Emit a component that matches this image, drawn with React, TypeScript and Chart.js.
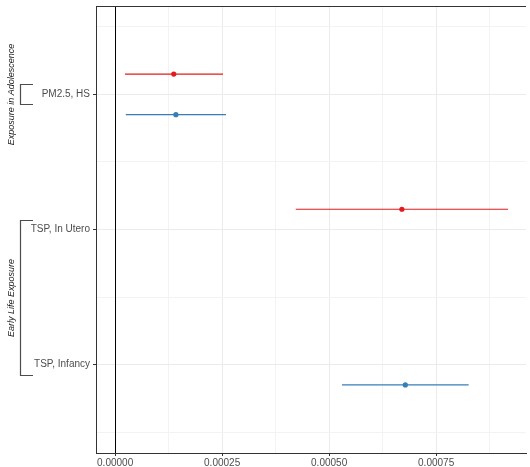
import React, { useEffect, useRef } from "react";
import { Chart, registerables } from "chart.js";

Chart.register(...registerables);

// ---- data ----
const categories = ["PM2.5, HS", "TSP, In Utero", "TSP, Infancy"];
const redEst = [0.000137, 0.00067, null];
const redLow = [0.000023, 0.000422, null];
const redHigh = [0.000252, 0.000918, null];
const blueEst = [0.000142, null, 0.000678];
const blueLow = [0.000025, null, 0.00053];
const blueHigh = [0.000259, null, 0.000826];
const xMajorTicks = [0, 0.00025, 0.0005, 0.00075];
const xMinorTicks = [0.000125, 0.000375, 0.000625, 0.000875];
const groupLabels = ["Exposure in Adolescence", "Early Life Exposure"];
const groupStart = [0, 1];
const groupEnd = [0, 2];

const RED = "#E41A1C";
const BLUE = "#377EB8";
const DODGE = 0.15;
const FONT = '"Liberation Sans", Arial, Helvetica, sans-serif';

type Series = { color: string; est: (number | null)[]; low: (number | null)[]; high: (number | null)[]; offset: number };
const series: Series[] = [
  { color: RED, est: redEst, low: redLow, high: redHigh, offset: -DODGE },
  { color: BLUE, est: blueEst, low: blueLow, high: blueHigh, offset: DODGE },
];

const isMajorX = (v: number) => xMajorTicks.some((t) => Math.abs(t - v) < 1e-9);
const isMajorY = (v: number) => Math.abs(v - Math.round(v)) < 1e-9;

const annotPlugin = {
  id: "annot",
  beforeDatasetsDraw(chart: any) {
    const { ctx, chartArea, scales } = chart;
    const x = scales.x;
    ctx.save();
    const x0 = Math.round(x.getPixelForValue(0)) + 0.5;
    ctx.strokeStyle = "#000000";
    ctx.lineWidth = 1;
    ctx.beginPath();
    ctx.moveTo(x0, chartArea.top);
    ctx.lineTo(x0, chartArea.bottom);
    ctx.stroke();
    ctx.restore();
  },
  afterDraw(chart: any) {
    const { ctx, chartArea, scales } = chart;
    const y = scales.y;
    ctx.save();
    // top border
    ctx.strokeStyle = "#333333";
    ctx.lineWidth = 1;
    ctx.beginPath();
    ctx.moveTo(chartArea.left, chartArea.top + 0.5);
    ctx.lineTo(chartArea.right, chartArea.top + 0.5);
    ctx.stroke();
    // group brackets
    groupLabels.forEach((label, i) => {
      const yTop = Math.round(y.getPixelForValue(groupStart[i] + 1) - 10) + 0.5;
      const yBot = Math.round(y.getPixelForValue(groupEnd[i] + 1) + 10) + 0.5;
      ctx.strokeStyle = "#4d4d4d";
      ctx.lineWidth = 1.2;
      ctx.beginPath();
      ctx.moveTo(33, yTop);
      ctx.lineTo(20.5, yTop);
      ctx.lineTo(20.5, yBot);
      ctx.lineTo(33, yBot);
      ctx.stroke();
      ctx.save();
      ctx.translate(11, (yTop + yBot) / 2);
      ctx.rotate(-Math.PI / 2);
      ctx.font = `italic 9px ${FONT}`;
      ctx.fillStyle = "#1a1a1a";
      ctx.textAlign = "center";
      ctx.textBaseline = "middle";
      ctx.fillText(label, 0, 0);
      ctx.restore();
    });
    ctx.restore();
  },
};

export default function App() {
  const ref = useRef<HTMLCanvasElement | null>(null);

  useEffect(() => {
    document.body.style.margin = "0";
    document.body.style.overflow = "hidden";
    if (!ref.current) return;

    const datasets: any[] = [];
    series.forEach((s) => {
      categories.forEach((_, i) => {
        const lo = s.low[i];
        const hi = s.high[i];
        if (lo == null || hi == null) return;
        datasets.push({
          type: "scatter",
          data: [
            { x: lo, y: i + 1 + s.offset },
            { x: hi, y: i + 1 + s.offset },
          ],
          showLine: true,
          borderColor: s.color,
          borderWidth: 1.1,
          pointRadius: 0,
          pointHoverRadius: 0,
        });
      });
    });
    series.forEach((s) => {
      const pts: any[] = [];
      categories.forEach((_, i) => {
        const e = s.est[i];
        if (e == null) return;
        pts.push({ x: e, y: i + 1 + s.offset });
      });
      datasets.push({
        type: "scatter",
        data: pts,
        showLine: false,
        backgroundColor: s.color,
        borderColor: s.color,
        borderWidth: 0,
        pointRadius: 2.6,
      });
    });

    const chart = new Chart(ref.current, {
      type: "scatter",
      data: { datasets },
      options: {
        responsive: false,
        animation: false,
        events: [],
        layout: { padding: { top: 6, right: 0, left: 0, bottom: 0 } },
        plugins: { legend: { display: false }, tooltip: { enabled: false } },
        scales: {
          x: {
            type: "linear",
            min: -0.0000447,
            max: 0.00096,
            afterBuildTicks: (scale: any) => {
              scale.ticks = [...xMajorTicks, ...xMinorTicks].sort((a, b) => a - b).map((v) => ({ value: v }));
            },
            afterFit: (scale: any) => {
              scale.height = 14;
              scale.paddingLeft = 0;
              scale.paddingRight = 0;
              scale.paddingTop = 0;
              scale.paddingBottom = 0;
            },
            grid: {
              color: (c: any) => (c.tick && isMajorX(c.tick.value) ? "#ebebeb" : "#f3f3f3"),
              lineWidth: 1,
              tickLength: 3,
              tickColor: (c: any) => (c.tick && isMajorX(c.tick.value) ? "#333333" : "rgba(0,0,0,0)"),
            },
            border: { display: true, color: "#333333", width: 1 },
            ticks: {
              autoSkip: false,
              maxRotation: 0,
              padding: 1,
              color: "#4d4d4d",
              font: { family: FONT, size: 10 },
              callback: (v: any) => (isMajorX(Number(v)) ? Number(v).toFixed(5) : ""),
            },
          },
          y: {
            type: "linear",
            reverse: true,
            min: 0.346,
            max: 3.654,
            afterBuildTicks: (scale: any) => {
              scale.ticks = [0.5, 1, 1.5, 2, 2.5, 3, 3.5].map((v) => ({ value: v }));
            },
            afterFit: (scale: any) => {
              scale.width = 96;
              scale.paddingLeft = 0;
              scale.paddingRight = 0;
              scale.paddingTop = 0;
              scale.paddingBottom = 0;
            },
            grid: {
              color: (c: any) => (c.tick && isMajorY(c.tick.value) ? "#ebebeb" : "#f3f3f3"),
              lineWidth: 1,
              tickLength: 3,
              tickColor: (c: any) => (c.tick && isMajorY(c.tick.value) ? "#333333" : "rgba(0,0,0,0)"),
            },
            border: { display: true, color: "#333333", width: 1 },
            ticks: {
              autoSkip: false,
              padding: 3,
              color: "#4d4d4d",
              font: { family: FONT, size: 10 },
              callback: (v: any) => {
                const n = Number(v);
                return isMajorY(n) ? categories[Math.round(n) - 1] : "";
              },
            },
          },
        },
      },
      plugins: [annotPlugin],
    } as any);

    return () => chart.destroy();
  }, []);

  return (
    <div style={{ width: 530, height: 467 }}>
      <canvas ref={ref} width={530} height={467} style={{ display: "block" }} />
    </div>
  );
}
